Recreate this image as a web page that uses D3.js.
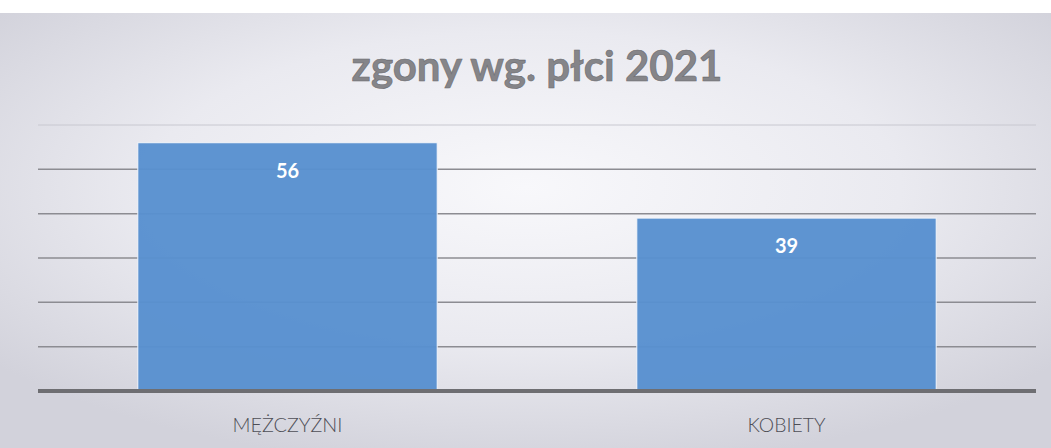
<!DOCTYPE html>
<html>
<head>
<meta charset="utf-8">
<script src="https://cdn.jsdelivr.net/npm/d3@7"></script>
<style>
  body { margin: 0; background: #ffffff; }
  #chart svg { display: block; }
</style>
</head>
<body>
<div id="chart"></div>
<script>
// Data
var categories = ["MĘŻCZYŹNI", "KOBIETY"];
var values = [56, 39];
var gridTicks = [0, 10, 20, 30, 40, 50, 60];
var title = "zgony wg. płci 2021";

var W = 1051, H = 448;
var plot = { left: 38, right: 1036, top: 125, bottom: 391 };

var svg = d3.select("#chart")
  .append("svg")
    .attr("width", W)
    .attr("height", H);

// background: scanned grey card with lighter middle
var defs = svg.append("defs");
var grad = defs.append("radialGradient")
    .attr("id", "bg")
    .attr("cx", "50%").attr("cy", "40%").attr("r", "65%");
grad.append("stop").attr("offset", "0%").attr("stop-color", "#f8f8fb");
grad.append("stop").attr("offset", "55%").attr("stop-color", "#eaeaf0");
grad.append("stop").attr("offset", "100%").attr("stop-color", "#d2d2db");

svg.append("rect")
    .attr("x", 0).attr("y", 13)
    .attr("width", W).attr("height", H - 13)
    .attr("fill", "url(#bg)");

// scales
var x = d3.scaleBand()
    .domain(categories)
    .range([plot.left, plot.right])
    .paddingInner(0.4)
    .paddingOuter(0.2);

var y = d3.scaleLinear()
    .domain([0, 60])
    .range([plot.bottom, plot.top]);

// gridlines
svg.append("g")
  .selectAll("line")
  .data(gridTicks.filter(function(d) { return d > 0; }))
  .enter()
  .append("line")
    .attr("x1", plot.left)
    .attr("x2", plot.right)
    .attr("y1", function(d) { return y(d); })
    .attr("y2", function(d) { return y(d); })
    .attr("stroke", function(d) { return d === 60 ? "#c8c8d0" : "#8c8c92"; })
    .attr("stroke-width", function(d) { return d === 60 ? 1 : 1.5; });

// bars
svg.append("g")
  .selectAll("rect")
  .data(values)
  .enter()
  .append("rect")
    .attr("x", function(d, i) { return x(categories[i]); })
    .attr("y", function(d) { return y(d); })
    .attr("width", x.bandwidth())
    .attr("height", function(d) { return y(0) - y(d); })
    .attr("fill", "#5790cf")
    .attr("fill-opacity", 0.96)
    .attr("stroke", "#f4f6fa")
    .attr("stroke-width", 1);

// value labels
svg.append("g")
  .selectAll("text")
  .data(values)
  .enter()
  .append("text")
    .attr("x", function(d, i) { return x(categories[i]) + x.bandwidth() / 2; })
    .attr("y", function(d) { return y(d) + 35; })
    .attr("text-anchor", "middle")
    .attr("font-family", "Lato, 'Open Sans', sans-serif")
    .attr("font-weight", "bold")
    .attr("font-size", 20)
    .attr("fill", "#ffffff")
    .text(function(d) { return d; });

// baseline (x axis)
var xAxis = svg.append("g")
    .attr("transform", "translate(0," + y(0) + ")")
    .call(d3.axisBottom(x).tickSize(0).tickPadding(0));
xAxis.select(".domain")
    .attr("d", "M" + plot.left + ",0H" + plot.right)
    .attr("stroke", "#6e6e72")
    .attr("stroke-width", 4);
xAxis.selectAll("text")
    .attr("dy", 0)
    .attr("y", 41)
    .attr("font-family", "Lato, 'Open Sans', sans-serif")
    .attr("font-weight", 300)
    .attr("font-size", 19)
    .attr("fill", "#4e4e56")
    .attr("textLength", function(d) { return d === "KOBIETY" ? 78 : 110; })
    .attr("lengthAdjust", "spacingAndGlyphs");

// title
svg.append("text")
    .attr("x", (plot.left + plot.right) / 2)
    .attr("y", 81)
    .attr("text-anchor", "middle")
    .attr("font-family", "Lato, 'Open Sans', sans-serif")
    .attr("font-weight", "bold")
    .attr("font-size", 42)
    .attr("fill", "#858589")
    .attr("stroke", "#6c6c70")
    .attr("stroke-width", 0.6)
    .text(title);
</script>
</body>
</html>
